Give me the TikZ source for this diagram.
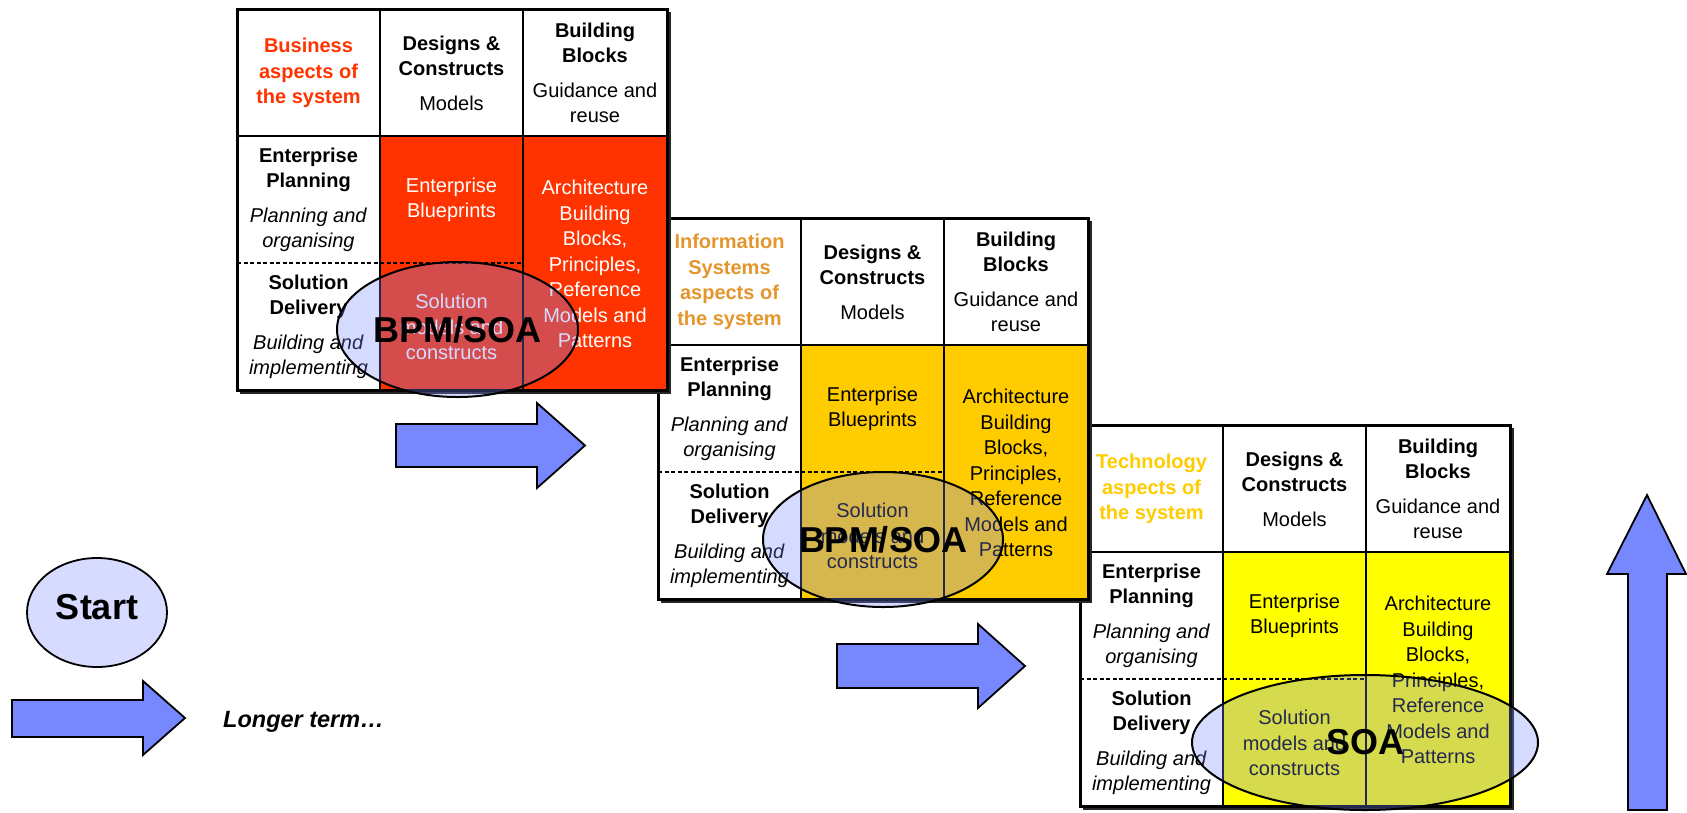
\documentclass[tikz,border=0pt]{standalone}
\usepackage{fontspec}
\setmainfont{Liberation Sans}
\usetikzlibrary{shapes.geometric}
\definecolor{arrowblue}{RGB}{119,136,255}
\definecolor{startfill}{RGB}{214,219,255}
\definecolor{gridred}{RGB}{255,51,0}
\definecolor{gridorange}{RGB}{255,204,0}
\definecolor{gridyellow}{RGB}{255,255,0}
\definecolor{isorange}{RGB}{228,150,45}
\definecolor{techgold}{RGB}{255,204,0}
\tikzset{
  gridline/.style={line width=1.5pt, draw=black},
  dashline/.style={line width=1.4pt, draw=black, dash pattern=on 4pt off 2.5pt},
  gridframe/.style={line width=3pt, draw=black},
  cell/.style={align=center, inner sep=0pt, font=\fontsize{20}{25.5}\selectfont},
  blockarrow/.style={fill=arrowblue, draw=black, line width=1.8pt, line join=miter},
  focus/.style={ellipse, draw=black, line width=2pt, fill=arrowblue, fill opacity=0.3, text opacity=1,
     inner sep=0pt, font=\fontsize{36}{40}\selectfont\bfseries},
}
% #1 prefix, #2 x, #3 y, #4 fill colour, #5 cell text colour, #6 header colour, #7 header text
\newcommand{\archgrid}[7]{%
\begin{scope}[shift={(#2,#3)}]
  \fill[black!85] (3,3) rectangle (433.5,384.5);
  \fill[white] (0,0) rectangle (430,381);
  \fill[#4] (143,127) rectangle (430,381);
  \draw[gridline] (143,0) -- (143,381) (286,0) -- (286,381) (0,127) -- (430,127);
  \draw[dashline] (0,254) -- (286,254);
  \draw[gridframe] (0,0) rectangle (430,381);
  \node[cell, text=#6, font=\fontsize{20}{25.5}\selectfont\bfseries] (#1hd) at (71.5,64) {#7};
  \node[cell] (#1dc) at (214.5,64) {\textbf{Designs \&}\\\textbf{Constructs}\\[9pt]Models};
  \node[cell] (#1bb) at (358,64) {\textbf{Building}\\\textbf{Blocks}\\[9pt]Guidance and\\reuse};
  \node[cell] (#1ep) at (71.5,191) {\textbf{Enterprise}\\\textbf{Planning}\\[9pt]\textit{Planning and}\\\textit{organising}};
  \node[cell] (#1sd) at (71.5,318) {\textbf{Solution}\\\textbf{Delivery}\\[9pt]\textit{Building and}\\\textit{implementing}};
  \node[cell, text=#5] (#1eb) at (214.5,191) {Enterprise\\Blueprints};
  \node[cell, text=#5] (#1sm) at (214.5,318) {Solution\\models and\\constructs};
  \node[cell, text=#5] (#1ab) at (358,255) {Architecture\\Building\\Blocks,\\Principles,\\Reference\\Models and\\Patterns};
\end{scope}}
\begin{document}
\begin{tikzpicture}[x=1pt, y=-1pt]
\useasboundingbox (0,0) rectangle (1687,812);
\fill[white] (0,0) rectangle (1687,812);

% third grid (technology)
\archgrid{gt}{1080}{425}{gridyellow}{black}{techgold}{Technology\\aspects of\\the system}
\node[focus, minimum width=346pt, minimum height=135pt] (soa) at (1365,742.5) {SOA};

% second grid (information systems)
\archgrid{gi}{658}{218}{gridorange}{black}{isorange}{Information\\Systems\\aspects of\\the system}
\node[focus, minimum width=240pt, minimum height=135pt] (bpm2) at (883,539.5) {BPM/SOA};

% first grid (business)
\archgrid{gb}{237}{9}{gridred}{white}{gridred}{Business\\aspects of\\the system}
\node[focus, minimum width=241pt, minimum height=135pt] (bpm1) at (457.5,329.5) {BPM/SOA};

% block arrows
\draw[blockarrow] (396,424) -- (537,424) -- (537,403) -- (585,445.5) -- (537,488) -- (537,467) -- (396,467) -- cycle;
\draw[blockarrow] (837,644) -- (978,644) -- (978,624) -- (1025,666) -- (978,708) -- (978,688) -- (837,688) -- cycle;
\draw[blockarrow] (12,700) -- (143,700) -- (143,681) -- (185,718) -- (143,755) -- (143,737) -- (12,737) -- cycle;
\draw[blockarrow] (1628,810) -- (1628,574) -- (1607,574) -- (1647,495) -- (1686,574) -- (1667,574) -- (1667,810) -- cycle;

% start and label
\node[ellipse, draw=black, line width=1.8pt, fill=startfill, minimum width=140pt, minimum height=109pt, inner sep=0pt,
      text depth=12pt, font=\fontsize{36}{40}\selectfont\bfseries] (start) at (97,612.5) {Start};
\node[anchor=base west, inner sep=0pt, font=\fontsize{23.5}{28}\selectfont\bfseries\itshape] (longer) at (223,727) {Longer term…};
\end{tikzpicture}
\end{document}
